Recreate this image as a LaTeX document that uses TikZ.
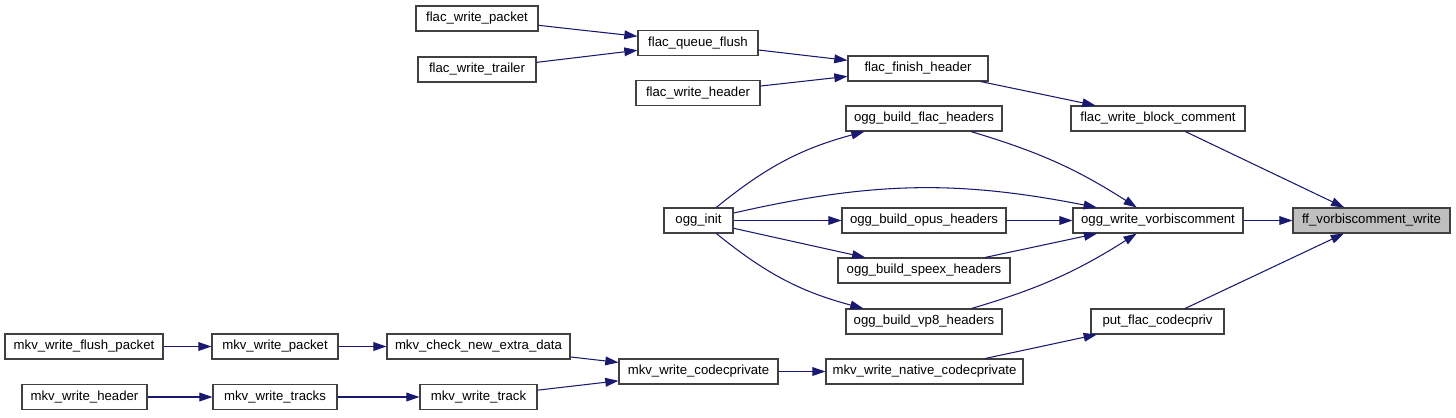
\documentclass[tikz,border=0pt]{standalone}
\usepackage{fontspec}
\setmainfont{Liberation Sans}
\usetikzlibrary{arrows.meta}
\definecolor{navy}{HTML}{191970}

\begin{document}
\begin{tikzpicture}[x=0.02cm,y=0.02cm,
  fn/.style={draw=black!75,fill=white,line width=0.6pt,inner sep=0pt,
    minimum height=0.5cm,font=\fontsize{7.5}{8}\selectfont},
  call/.style={draw=navy,line width=0.6pt,-{Triangle[length=7.5pt,width=5pt]}}]
  \useasboundingbox (0,0) rectangle (1456,-417);
  % functions, at pixel centres
  \foreach \id/\x/\y/\w/\txt in {
      fwp/477/18.5/122/flac\_write\_packet, fwt/477/69.5/118/flac\_write\_trailer,
      fqf/698/43/120/flac\_queue\_flush, fwh/698/93/124/flac\_write\_header,
      ffh/918/68.5/140/flac\_finish\_header, fwbc/1158/118.5/174/flac\_write\_block\_comment,
      obfh/924/118.5/156/ogg\_build\_flac\_headers, oinit/698.5/220.5/69/ogg\_init,
      oboh/924/220.5/164/ogg\_build\_opus\_headers, owv/1158/220.5/170/ogg\_write\_vorbiscomment,
      obsh/924/270.5/172/ogg\_build\_speex\_headers, obvh/924/321.5/156/ogg\_build\_vp8\_headers,
      pfc/1157.5/321.5/133/put\_flac\_codecpriv,
      mwfp/84/346.5/158/mkv\_write\_flush\_packet, mwp/275/346.5/126/mkv\_write\_packet,
      mcned/478.5/346.5/183/mkv\_check\_new\_extra\_data, mwc/698.5/371.5/159/mkv\_write\_codecprivate,
      mwnc/924.5/371.5/197/mkv\_write\_native\_codecprivate,
      mwh/84.5/397/125/mkv\_write\_header, mwts/275/397/124/mkv\_write\_tracks,
      mwt/478.5/397/117/mkv\_write\_track}
    \node[fn,minimum width=\w*0.02cm] (\id) at (\x,-\y) {\txt};
  \node[fn,fill=black!25,minimum width=157*0.02cm] (fvw) at (1371.5,-220.5) {ff\_vorbiscomment\_write};
  % calls
  \foreach \a/\b in {fwp/fqf,fwt/fqf,fqf/ffh,fwh/ffh,ffh/fwbc,fwbc/fvw,
      oinit/oboh,oinit/obsh,oboh/owv,obsh/owv,owv/fvw,pfc/fvw,mwnc/pfc,
      mwc/mwnc,mcned/mwc,mwt/mwc,mwp/mcned,mwfp/mwp,mwts/mwt,mwh/mwts}
    \draw[call] (\a) -- (\b);
  \draw[call] (oinit) to[bend left=12] (obfh);
  \draw[call] (oinit) to[bend left=12] (owv);
  \draw[call] (oinit) to[bend right=12] (obvh);
  \draw[call] (obfh) to[bend left=8] (owv);
  \draw[call] (obvh) to[bend right=8] (owv);
\end{tikzpicture}
\end{document}
